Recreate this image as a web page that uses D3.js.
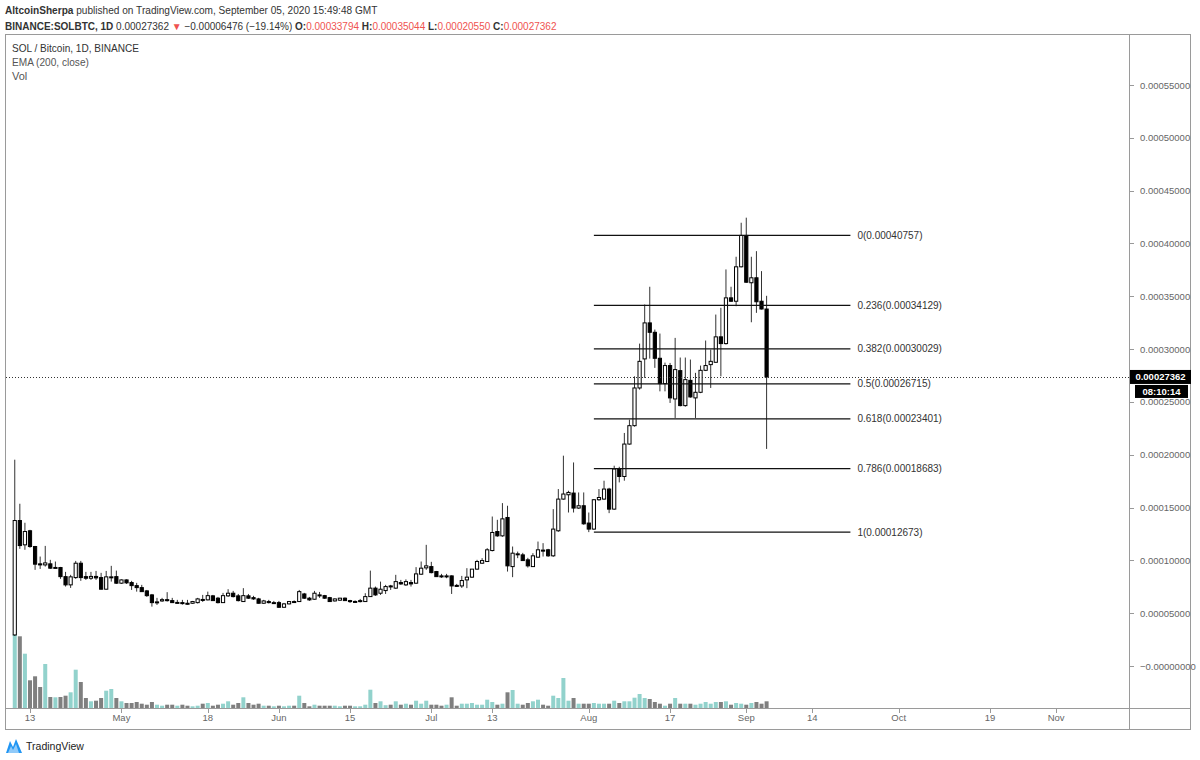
<!DOCTYPE html>
<html><head><meta charset="utf-8">
<script src="https://cdn.jsdelivr.net/npm/d3@7"></script>
<style>
body{margin:0;background:#fff}
svg{display:block}
text{font-family:"Liberation Sans",Arial,sans-serif}
</style>
</head><body>
<svg id="c" width="1200" height="760"></svg>
<script>
// ---------- DATA (prices in satoshi = 1e-8 BTC) ----------
const firstDay = "2020-04-10"; // one candle per day
const openP = [2940,13770,11470,12800,11310,9670,9570,9670,9290,9320,
8460,7680,8370,9730,8460,8310,8480,8370,7270,8400,
8460,7840,8150,7900,7610,7420,7110,6730,6000,6160,
6280,6190,5970,6000,5940,5940,6000,6300,6260,6640,
6420,6000,6640,6890,6640,6100,6640,6470,6350,5940,
6100,5940,6000,5560,5880,6100,6100,6820,6420,6320,
6730,6660,6470,6160,6230,6420,6190,6070,6100,6100,
6570,7370,6890,7140,7580,7370,7900,7680,7900,7840,
8690,9290,9410,8940,8530,8480,8530,7630,7580,8150,
8410,9170,9730,9890,10930,12730,12320,14060,9410,10550,
10520,10050,9410,10300,10970,11000,10430,12800,15800,16210,
16370,14950,15170,13530,12960,15740,15800,16750,14850,18650,
17940,21010,22750,26320,29070,32480,31590,29130,26730,28440,
25280,27960,24650,27040,25380,25910,27990,28530,28750,31160,
30520,34850,34530,37790,40760,36280,36750,34530,33794];
const highP = [19530,15360,13560,12890,11370,10360,11370,10050,9890,9380,
8910,8630,9950,9950,8910,8910,9000,8820,9000,9480,
9030,8200,8200,8060,7870,7680,7200,6820,6450,6450,
6990,6450,6260,6260,6260,6160,6450,6730,7040,6730,
6540,6920,7270,7110,6820,7370,6820,6640,6450,6260,
6260,6160,6160,5970,6160,6210,7200,6920,6540,7110,
7010,6730,6540,6400,6450,6490,6260,6210,6350,6890,
9030,7520,7990,7680,7680,8630,8150,8200,8150,9360,
9890,11470,9860,9000,8720,8720,8580,7770,8530,9260,
9100,10050,10210,11160,14150,13840,15420,15170,11310,10830,
10710,10240,10680,11780,11630,11090,14850,16750,19910,16590,
19270,16430,16430,14530,15800,16750,17540,16870,18960,18860,
22060,23320,27420,30520,34220,35900,31850,31470,28720,28690,
31060,29200,29200,29010,27750,28440,30810,29950,33270,33910,
37540,35900,38740,41960,42440,38740,39270,37380,35044];
const lowP = [2840,11090,11000,11190,9100,9190,9410,9190,9240,8250,
7520,7390,8250,8060,8150,8150,8150,7250,7250,7990,
7770,7770,7770,7200,7040,7010,6540,5620,5780,6070,
6100,5970,5880,5810,5810,5880,5920,6070,6210,6160,
5920,5970,6540,6490,6110,6070,6350,6260,5910,5880,
5920,5880,5500,5500,5830,5970,6070,6350,6160,6260,
6450,6350,6070,6100,6160,6160,5970,5970,6020,6070,
6540,6640,6730,6820,7200,7300,7680,7580,7520,7770,
8630,9100,8770,8440,8340,8310,6820,7490,7390,7370,
8340,9100,9670,9860,10850,12230,12230,8940,8410,10210,
9950,9320,9380,10240,10360,10330,10330,12700,15740,14530,
14530,14880,13370,12673,12890,15640,15740,14470,14790,17380,
17540,20950,22660,26160,27270,29100,28220,26000,26000,24900,
23480,24580,24550,25400,23480,25830,27920,26320,28720,27420,
30430,34460,34060,37730,36280,32540,33430,33750,20550];
const closeP = [13770,11400,12730,11310,9640,9570,9760,9260,9330,8460,
7680,8440,9730,8370,8310,8480,8340,7270,8440,8440,
7840,8150,7870,7610,7420,7040,6660,6000,6070,6280,
6210,6000,6020,5940,5900,6100,6350,6280,6660,6190,
6000,6660,6890,6570,6190,6660,6420,6350,5940,6160,
6000,6000,5560,5880,6100,6020,7040,6420,6260,6890,
6640,6420,6100,6350,6420,6190,6130,6110,6190,6570,
7370,6730,7270,7520,7500,7990,7770,7990,7770,8720,
9260,9480,8840,8460,8460,8530,7580,7600,8090,8410,
9170,9890,9980,11000,12640,12320,13930,9480,10680,10620,
9980,9480,10430,11000,10900,10430,12960,15800,16280,16430,
14950,15170,13460,12960,15740,15950,16750,14850,18650,17940,
21010,22750,26320,28840,32480,31590,29130,26730,28440,25380,
28060,24650,27110,25470,25910,27990,28440,28840,31160,30520,
34850,34530,37790,40760,36330,36750,34480,33794,27362];
const volume = [733,717,543,277,317,210,440,110,107,110,
123,157,383,260,100,67,73,100,173,190,
100,67,50,50,60,43,33,60,33,23,
33,33,23,33,23,17,23,43,50,23,
33,43,67,33,50,107,50,33,43,23,
23,17,23,17,23,23,123,50,17,33,
23,23,23,23,17,23,23,17,17,33,
183,50,67,28,33,67,33,43,33,73,
43,73,33,33,23,33,107,23,43,43,
50,33,33,83,60,33,43,157,180,43,
33,50,67,83,33,23,123,100,300,73,
100,43,43,43,50,43,43,43,73,50,
67,67,103,140,100,90,60,43,23,43,
100,43,43,43,33,43,60,43,60,60,
67,33,50,43,33,50,60,43,67];

const priceTicks = [0,5000,10000,15000,20000,25000,30000,35000,40000,45000,50000,55000];
const timeTicks = ["2020-04-13","2020-05-01","2020-05-18","2020-06-01","2020-06-15","2020-07-01",
                   "2020-07-13","2020-08-01","2020-08-17","2020-09-01","2020-09-14","2020-10-01",
                   "2020-10-19","2020-11-01"];
const timeTickLabels = ["13","May","18","Jun","15","Jul","13","Aug","17","Sep","14","Oct","19","Nov"];

const fibRatios = [0,0.236,0.382,0.5,0.618,0.786,1];
const fibHigh = 40757, fibLow = 12673;
const fibStart = "2020-08-02", fibEnd = "2020-09-21T12:00:00Z";

const lastPrice = 27362;
const countdown = "08:10:14";

// ---------- LAYOUT ----------
const svg = d3.select("#c");
const L = 5, R = 1129, AXR = 1191, T = 34, PB = 708, B = 730;
const DAY = 86400000;
const parse = s => new Date(s.length > 10 ? s : s + "T00:00:00Z");
const anchor = parse("2020-04-13").getTime();
const x = d3.scaleUtc()
  .domain([new Date(anchor - 4.921 * DAY), new Date(anchor + 216.34 * DAY)])
  .range([L, R]);
const y = d3.scaleLinear().domain([0, 55000]).range([666, 85]);
const vy = d3.scaleLinear().domain([0, 1000]).range([PB, PB - 100]);

const t0 = parse(firstDay).getTime();
const candles = openP.map((o, i) => ({
  date: new Date(t0 + i * DAY), o, h: highP[i], l: lowP[i], c: closeP[i], v: volume[i]
}));

// fit a text element to a target width by adjusting its font size
function fit(sel, target) {
  const fs = +sel.attr("font-size");
  const w = sel.node().getComputedTextLength();
  if (w > 0) sel.attr("font-size", (fs * target / w).toFixed(2));
  return sel;
}

// ---------- HEADER ----------
const h1 = svg.append("text").attr("x", 5).attr("y", 14).attr("font-size", 12).attr("fill", "#333");
h1.append("tspan").attr("font-weight", "bold").text("AltcoinSherpa");
h1.append("tspan").text(" published on TradingView.com, September 05, 2020 15:49:48 GMT");
fit(h1, 373);

const red = "#ef5350";
const h2 = svg.append("text").attr("x", 5).attr("y", 30).attr("font-size", 12).attr("fill", "#333");
h2.append("tspan").attr("font-weight", "bold").text("BINANCE:SOLBTC, 1D");
h2.append("tspan").text(" 0.00027362 ");
h2.append("tspan").attr("fill", red).text("▼");
h2.append("tspan").text(" −0.00006476 (−19.14%) ");
[["O:", "0.00033794"], ["H:", "0.00035044"], ["L:", "0.00020550"], ["C:", "0.00027362"]].forEach((p, k) => {
  h2.append("tspan").attr("font-weight", "bold").text((k ? " " : "") + p[0]);
  h2.append("tspan").attr("fill", red).text(p[1]);
});
fit(h2, 552);

// ---------- FRAME ----------
const frame = svg.append("g").attr("stroke", "#9a9a9a").attr("fill", "none").attr("stroke-width", 1);
frame.append("rect").attr("x", L + 0.5).attr("y", T + 0.5).attr("width", AXR - L - 1).attr("height", B - T - 1);
frame.append("line").attr("x1", R + 0.5).attr("x2", R + 0.5).attr("y1", T).attr("y2", B);
frame.append("line").attr("x1", L).attr("x2", AXR).attr("y1", PB + 0.5).attr("y2", PB + 0.5);

// ---------- LEGEND ----------
const leg = svg.append("g");
fit(leg.append("text").attr("x", 12).attr("y", 52).attr("font-size", 11.5).attr("fill", "#333").text("SOL / Bitcoin, 1D, BINANCE"), 127);
fit(leg.append("text").attr("x", 12).attr("y", 66).attr("font-size", 11.5).attr("fill", "#555").text("EMA (200, close)"), 77);
leg.append("text").attr("x", 12).attr("y", 80).attr("font-size", 11).attr("fill", "#555").text("Vol");

// ---------- CLIP ----------
svg.append("clipPath").attr("id", "plot").append("rect")
  .attr("x", L + 1).attr("y", T + 1).attr("width", R - L - 1).attr("height", PB - T - 1);
const plot = svg.append("g").attr("clip-path", "url(#plot)");

// ---------- VOLUME ----------
plot.append("g").selectAll("rect").data(candles).join("rect")
  .attr("x", d => x(d.date) - 2).attr("width", 4)
  .attr("y", d => vy(d.v)).attr("height", d => PB - vy(d.v))
  .attr("fill", d => d.c >= d.o ? "#92d2cc" : "#7f7f7f");

// ---------- CANDLES ----------
const cg = plot.append("g");
cg.selectAll("line").data(candles).join("line")
  .attr("x1", d => x(d.date)).attr("x2", d => x(d.date))
  .attr("y1", d => y(d.h)).attr("y2", d => y(d.l))
  .attr("stroke", "#333").attr("stroke-width", 1);
cg.selectAll("rect").data(candles).join("rect")
  .attr("x", d => x(d.date) - 1.6).attr("width", 3.2)
  .attr("y", d => y(Math.max(d.o, d.c)))
  .attr("height", d => Math.max(1, Math.abs(y(d.o) - y(d.c))))
  .attr("fill", d => d.c >= d.o ? "#fff" : "#000")
  .attr("stroke", "#000").attr("stroke-width", 1);

// ---------- FIBONACCI ----------
const fx1 = x(parse(fibStart)), fx2 = x(parse(fibEnd));
const fibs = fibRatios.map(r => ({ r, v: fibHigh - r * (fibHigh - fibLow) }));
const fg = svg.append("g");
fg.selectAll("line").data(fibs).join("line")
  .attr("x1", fx1).attr("x2", fx2).attr("y1", d => y(d.v)).attr("y2", d => y(d.v))
  .attr("stroke", "#111").attr("stroke-width", 1.3);
fg.selectAll("text").data(fibs).join("text")
  .attr("x", fx2 + 7).attr("y", d => y(d.v) + 3.5)
  .attr("font-size", 10).attr("fill", "#333")
  .text(d => `${d.r}(${(d.v / 1e8).toFixed(8)})`);

// ---------- LAST PRICE LINE ----------
svg.append("line").attr("x1", L + 1).attr("x2", R).attr("y1", Math.round(y(lastPrice)) + 0.5).attr("y2", Math.round(y(lastPrice)) + 0.5)
  .attr("stroke", "#333").attr("stroke-dasharray", "1,2").attr("stroke-width", 1);

// ---------- PRICE AXIS ----------
const pa = svg.append("g");
pa.selectAll("line").data(priceTicks).join("line")
  .attr("x1", R + 1).attr("x2", R + 5).attr("y1", d => Math.round(y(d)) + 0.5).attr("y2", d => Math.round(y(d)) + 0.5)
  .attr("stroke", "#999");
pa.selectAll("text").data(priceTicks).join("text")
  .attr("x", 1140).attr("y", d => y(d) + 3.5).attr("font-size", 9.5).attr("fill", "#666")
  .text(d => d === 0 ? "−0.00000000" : (d / 1e8).toFixed(8));

// ---------- TIME AXIS ----------
const ta = svg.append("g");
ta.selectAll("line").data(timeTicks).join("line")
  .attr("x1", d => Math.round(x(parse(d))) + 0.5).attr("x2", d => Math.round(x(parse(d))) + 0.5)
  .attr("y1", PB + 1).attr("y2", PB + 5).attr("stroke", "#999");
ta.selectAll("text").data(timeTicks).join("text")
  .attr("x", d => x(parse(d))).attr("y", 721).attr("text-anchor", "middle")
  .attr("font-size", 9.5).attr("fill", "#666")
  .text((d, i) => timeTickLabels[i]);

// ---------- PRICE / COUNTDOWN BOXES ----------
const py = y(lastPrice);
svg.append("rect").attr("x", R + 1).attr("y", py - 7).attr("width", 61).attr("height", 14).attr("fill", "#000");
svg.append("text").attr("x", R + 31.5).attr("y", py + 3.5).attr("text-anchor", "middle")
  .attr("font-size", 9.5).attr("font-weight", "bold").attr("fill", "#fff").text((lastPrice / 1e8).toFixed(8));
svg.append("rect").attr("x", 1135).attr("y", py + 8).attr("width", 53).attr("height", 13).attr("fill", "#000");
svg.append("text").attr("x", 1161.5).attr("y", py + 18).attr("text-anchor", "middle")
  .attr("font-size", 9.5).attr("font-weight", "bold").attr("fill", "#fff").text(countdown);

// ---------- FOOTER ----------
const ft = svg.append("g");
ft.append("path").attr("d", "M6,753 L10,741 L13,747 L16,739 L22,753 Z").attr("fill", "#2196f3");
ft.append("path").attr("d", "M8,753 L11,746 L13,750 L16,744 L19,753 Z").attr("fill", "#90caf9");
fit(ft.append("text").attr("x", 26).attr("y", 750).attr("font-size", 11).attr("fill", "#222").text("TradingView"), 58);
</script>
</body></html>
